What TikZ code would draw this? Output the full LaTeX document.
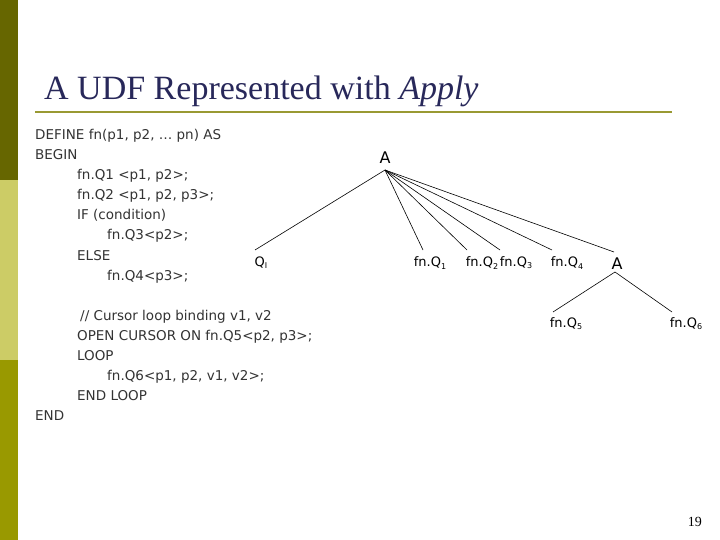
\documentclass[tikz,border=0pt]{standalone}
\usepackage{fontspec}
\setmainfont{Liberation Serif}
\newfontfamily\codefont{DejaVu Sans}
\newcommand{\sbs}[1]{\raisebox{-0.3ex}{\fontsize{8}{9}\selectfont #1}}
\begin{document}
\begin{tikzpicture}[x=1pt,y=-1pt,
  code/.style={anchor=base west,inner sep=0pt,font=\codefont\fontsize{13.5}{15}\selectfont,text=black!80},
  tn/.style={inner sep=1pt,font=\codefont\fontsize{13}{15}\selectfont},
  edge/.style={draw=black,line width=0.6pt}]
\useasboundingbox (0,0) rectangle (720,540);
\fill[white] (0,0) rectangle (720,540);
\fill[fill={rgb,255:red,102;green,102;blue,0}] (0,0) rectangle (18,180);
\fill[fill={rgb,255:red,204;green,204;blue,102}] (0,180) rectangle (18,360);
\fill[fill={rgb,255:red,153;green,153;blue,0}] (0,360) rectangle (18,540);
\node[anchor=base west,inner sep=0pt,font=\fontsize{34}{40}\selectfont,text={rgb,255:red,40;green,40;blue,90}] (title) at (44,100) {A UDF Represented with \textit{Apply}};
\draw[line width=2pt,draw={rgb,255:red,153;green,153;blue,51}] (35,112) -- (672,112);
\node[code] (l1) at (35,140) {DEFINE fn(p1, p2, … pn) AS};
\node[code] (l2) at (35,160) {BEGIN};
\node[code] (l3) at (77,180) {fn.Q1 <p1, p2>;};
\node[code] (l4) at (77,200) {fn.Q2 <p1, p2, p3>;};
\node[code] (l5) at (77,220) {IF (condition)};
\node[code] (l6) at (107,240) {fn.Q3<p2>;};
\node[code] (l7) at (77,260) {ELSE};
\node[code] (l8) at (107,280) {fn.Q4<p3>;};
\node[code] (l9) at (80,320) {// Cursor loop binding v1, v2};
\node[code] (l10) at (77,340) {OPEN CURSOR ON fn.Q5<p2, p3>;};
\node[code] (l11) at (77,360) {LOOP};
\node[code] (l12) at (107,380) {fn.Q6<p1, p2, v1, v2>;};
\node[code] (l13) at (77,400) {END LOOP};
\node[code] (l14) at (35,420) {END};
\node[tn,font=\codefont\fontsize{16}{18}\selectfont] (A) at (385,158) {A};
\node[tn] (Qi) at (261,263) {Q\sbs{I}};
\node[tn] (f1) at (430,263) {fn.Q\sbs{1}};
\node[tn] (f2) at (482,263) {fn.Q\sbs{2}};
\node[tn] (f3) at (516,263) {fn.Q\sbs{3}};
\node[tn] (f4) at (567,263) {fn.Q\sbs{4}};
\node[tn,font=\codefont\fontsize{16}{18}\selectfont] (A2) at (617,264) {A};
\node[tn] (f5) at (566,324) {fn.Q\sbs{5}};
\node[tn] (f6) at (686,324) {fn.Q\sbs{6}};
\coordinate (top) at (385,170);
\coordinate (top2) at (615,272);
\draw[edge] (top) -- (255,250);
\draw[edge] (top) -- (423,250);
\draw[edge] (top) -- (467,250);
\draw[edge] (top) -- (500,250);
\draw[edge] (top) -- (552,250);
\draw[edge] (top) -- (614,252);
\draw[edge] (top2) -- (553,312);
\draw[edge] (top2) -- (672,312);
\node[anchor=base east,inner sep=0pt,font=\fontsize{14}{16}\selectfont] (pg) at (702,526) {19};
\end{tikzpicture}
\end{document}
